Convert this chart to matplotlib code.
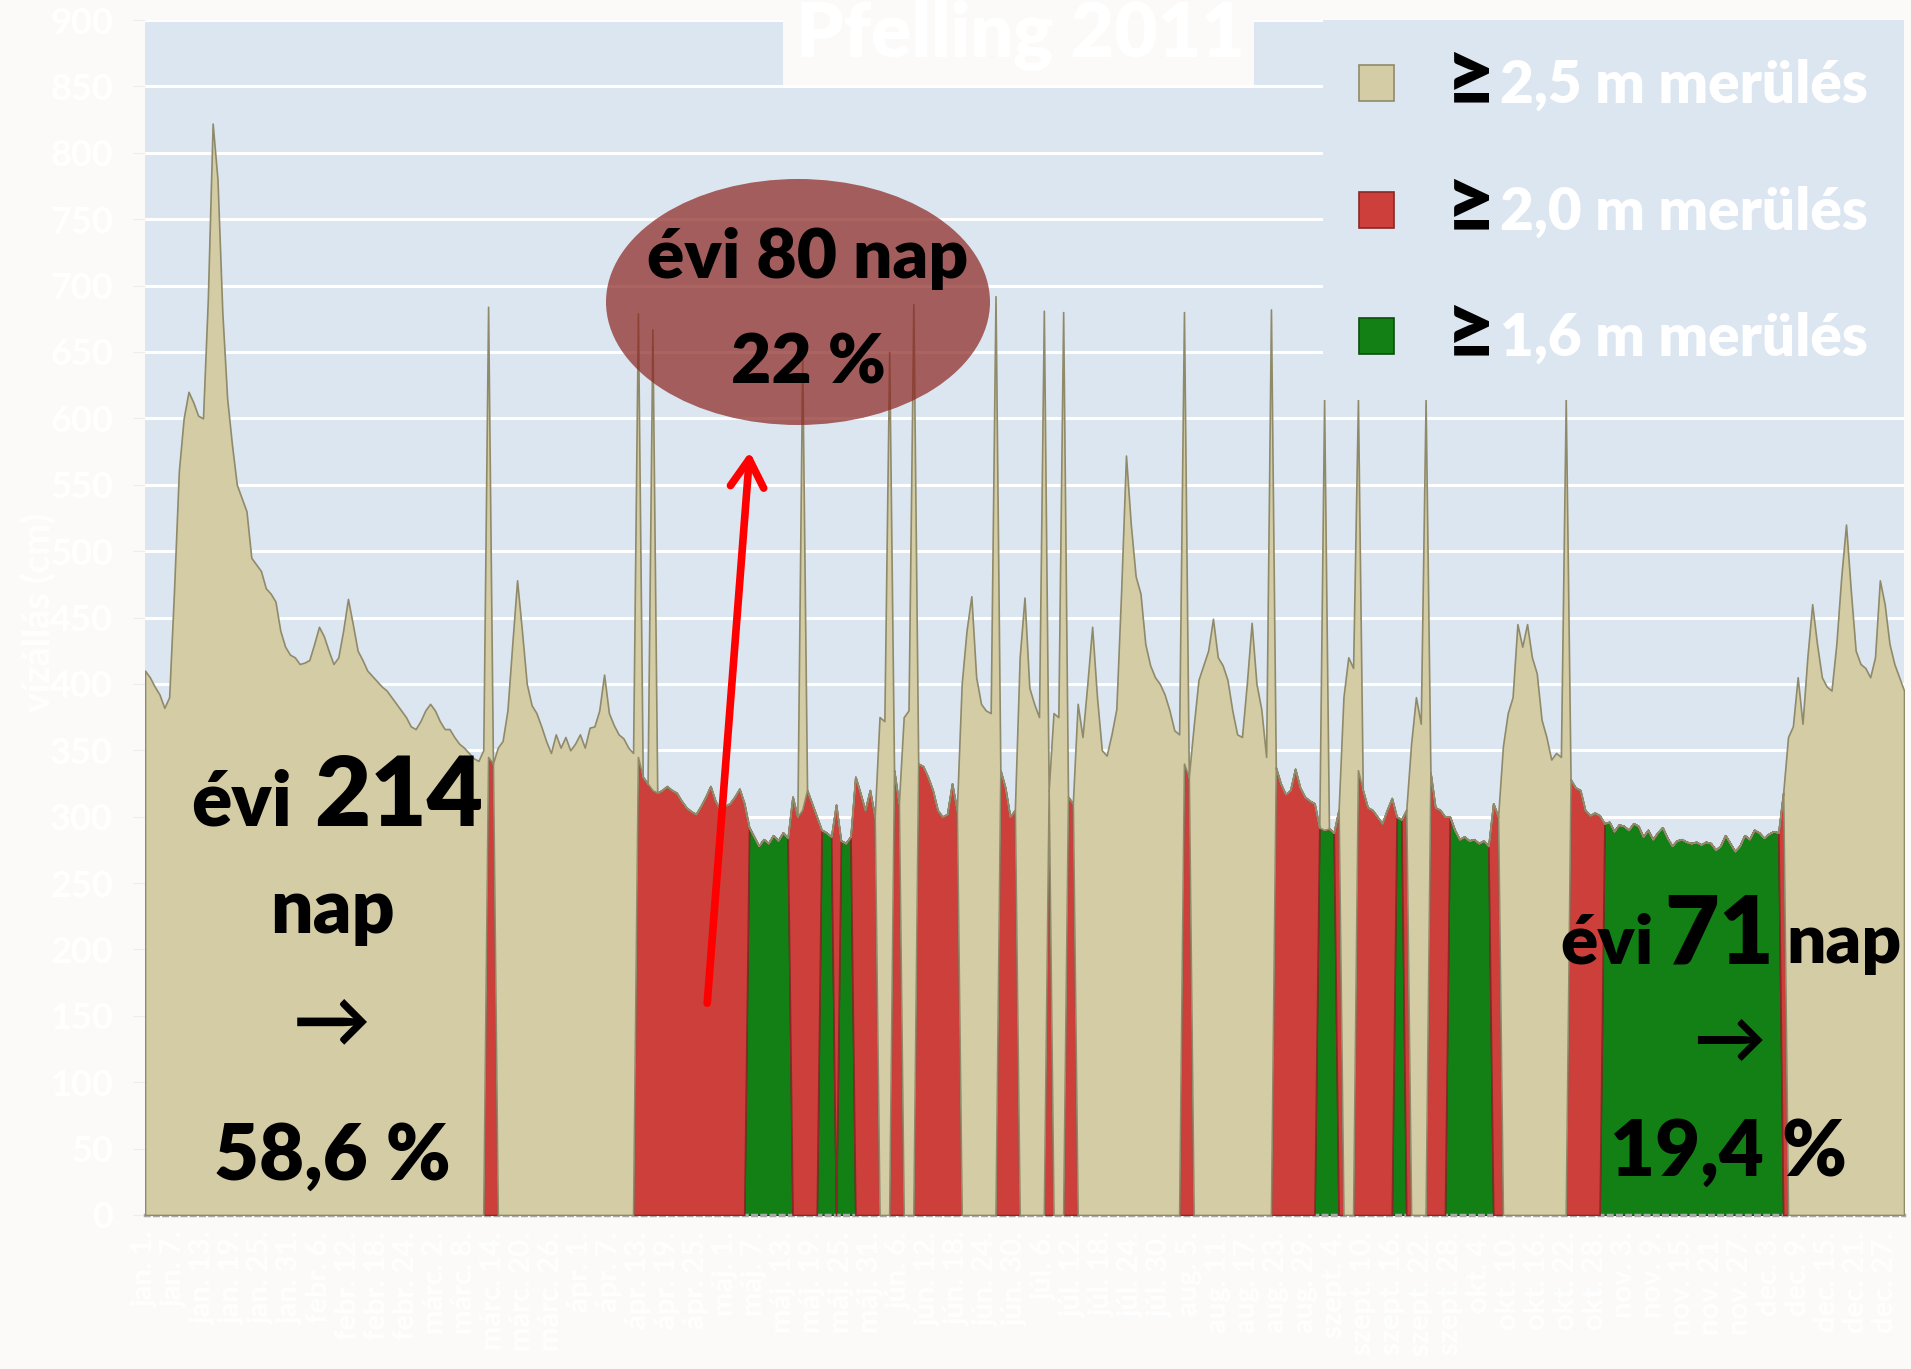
import numpy as np
import pandas as pd
import matplotlib.pyplot as plt
from matplotlib.patches import Ellipse, Rectangle, FancyArrowPatch

plt.rcParams['font.family'] = ['Lato', 'DejaVu Sans']

# daily water level (cm), Pfelling 2011
jan = [410, 405, 398, 392, 382, 390, 470, 560, 600, 620, 612, 602, 600, 690, 822, 780,
       680, 615, 580, 550, 540, 530, 495, 490, 485, 472, 468, 462, 440, 428, 422]
feb = [420, 415, 416, 418, 430, 443, 436, 425, 415, 420, 440, 464, 445, 425, 418, 410,
       406, 402, 398, 395, 390, 385, 380, 375, 368, 366, 372, 380]
mar = [385, 380, 372, 366, 366, 360, 355, 352, 348, 344, 342, 350, 345, 340, 352, 357,
       380, 430, 478, 440, 400, 384, 378, 368, 357, 348, 362, 352, 360, 350, 355]
apr = [362, 352, 367, 368, 380, 407, 378, 369, 362, 359, 352, 348, 345, 330, 325, 320,
       318, 320, 323, 320, 318, 312, 307, 304, 302, 308, 315, 323, 312, 305]
may = [308, 310, 315, 321, 310, 292, 285, 278, 283, 280, 286, 282, 288, 284, 315, 300,
       305, 320, 310, 300, 290, 288, 285, 309, 282, 280, 285, 330, 318, 305, 320]
jun = [300, 375, 372, 370, 335, 310, 375, 380, 385, 340, 338, 330, 320, 305, 300, 302,
       325, 305, 400, 440, 466, 405, 385, 380, 378, 372, 335, 322, 300, 305]
jul = [420, 465, 397, 385, 375, 370, 320, 378, 375, 372, 315, 310, 385, 360, 400, 443,
       390, 350, 346, 362, 381, 470, 572, 520, 481, 468, 430, 414, 405, 400, 392]
aug = [380, 365, 362, 340, 330, 368, 403, 414, 425, 449, 420, 414, 403, 380, 362, 360,
       400, 446, 400, 381, 345, 338, 337, 325, 317, 320, 336, 322, 315, 312, 310]
sep = [292, 290, 291, 288, 305, 390, 420, 412, 335, 320, 307, 305, 300, 295, 305, 314,
       300, 298, 305, 355, 390, 370, 355, 333, 307, 305, 300, 300, 290, 283]
okt = [285, 282, 283, 280, 282, 278, 310, 300, 353, 378, 390, 445, 428, 445, 420, 408,
       373, 360, 343, 348, 345, 340, 328, 322, 320, 305, 301, 303, 301, 295, 296]
nov = [289, 294, 293, 290, 295, 293, 285, 290, 283, 288, 292, 284, 278, 282, 283, 281,
       280, 281, 279, 281, 280, 275, 278, 286, 280, 274, 278, 286, 283, 290]
dec = [288, 284, 287, 289, 288, 318, 360, 368, 405, 370, 420, 460, 430, 405, 398, 395,
       430, 480, 520, 470, 425, 415, 412, 405, 420, 478, 460, 430, 415, 405, 395]

# draught class per day: B = >=2,5 m, R = >=2,0 m, G = >=1,6 m  (runs of days)
zone_runs = [("B", 71), ("R", 2), ("B", 29), ("R", 23), ("G", 9), ("R", 6), ("G", 3),
             ("R", 1), ("G", 3), ("R", 5), ("B", 3), ("R", 2), ("B", 3), ("R", 9),
             ("B", 8), ("R", 4), ("B", 6), ("R", 1), ("B", 3), ("R", 2), ("B", 22),
             ("R", 2), ("B", 17), ("R", 9), ("G", 4), ("R", 1), ("B", 3), ("R", 8),
             ("G", 2), ("R", 1), ("B", 4), ("R", 4), ("G", 9), ("R", 2), ("B", 14),
             ("R", 7), ("G", 37), ("R", 1), ("B", 25)]

# days where the stacked series overlap (thin spikes in the original)
spike_days = [71, 102, 105, 136, 154, 159, 176, 186, 190, 215, 233, 244, 251, 265, 294]
spike_tops = [684, 679, 667, 645, 650, 686, 692, 681, 680, 680, 682, 614, 614, 614, 614]

legend_labels = ["2,5 m merülés", "2,0 m merülés", "1,6 m merülés"]
honap = ['jan.', 'febr.', 'márc.', 'ápr.', 'máj.', 'jún.', 'júl.', 'aug.',
         'szept.', 'okt.', 'nov.', 'dec.']

level = np.array(jan + feb + mar + apr + may + jun + jul + aug + sep + okt + nov + dec, dtype=float)
zone = np.concatenate([[z] * n for z, n in zone_runs])
days = np.arange(len(level))

beige = np.where(zone == "B", level, 0.0)
red = np.where(zone == "R", level, 0.0)
green = np.where(zone == "G", level, 0.0)
for d, top in zip(spike_days, spike_tops):
    beige[d] += top - level[d]

c_beige, c_red, c_green = '#D3CCA4', '#CC3F3B', '#138016'
e_beige, e_red, e_green = '#8F8A6A', '#8A2826', '#0A4F0C'
axbg = '#DCE6F1'
figbg = '#FBFAF8'
W = 'heavy'

fig = plt.figure(figsize=(19.11, 13.69), dpi=100, facecolor=figbg)
ax = fig.add_axes([145 / 1911, 1 - 1215 / 1369, (1904 - 145) / 1911, (1215 - 20) / 1369])
ax.set_facecolor(axbg)

# stacked areas, like the original Excel chart
c1 = green
c2 = green + red
c3 = green + red + beige
ax.fill_between(days, 0, c1, facecolor=c_green, edgecolor=e_green, lw=1.2, zorder=2)
ax.fill_between(days, c1, c2, facecolor=c_red, edgecolor=e_red, lw=1.2, zorder=3)
ax.fill_between(days, c2, c3, facecolor=c_beige, edgecolor=e_beige, lw=1.2, zorder=4)

ax.set_xlim(0, len(level) - 1)
ax.set_ylim(0, 900)
ax.set_yticks(range(0, 901, 50))
ax.yaxis.grid(True, color='white', lw=2.2)
ax.set_axisbelow(True)
for s in ['top', 'right', 'left']:
    ax.spines[s].set_visible(False)
ax.spines['bottom'].set_color('#A8A8A8')
ax.spines['bottom'].set_linestyle(':')
ax.spines['bottom'].set_linewidth(2.5)

dates = pd.date_range('2011-01-01', periods=len(level))
tick_days = days[::6]
tick_labels = [f"{honap[dates[d].month - 1]} {dates[d].day}." for d in tick_days]
ax.set_xticks(tick_days)
ax.set_xticklabels(tick_labels, rotation=90, color='white', fontsize=21, fontweight='bold')
ax.tick_params(axis='x', length=0, pad=12)
ax.tick_params(axis='y', length=9, color='#EDEDED', labelcolor='white', labelsize=26, pad=14)
for t in ax.get_yticklabels():
    t.set_fontweight('bold')

fig.text(38 / 1911, 1 - 612 / 1369, 'vízállás (cm)', rotation=90, color='white',
         fontsize=27, fontweight='bold', ha='center', va='center')

# title box
fig.patches.append(Rectangle((783 / 1911, 1 - 85 / 1369), 471 / 1911, 85 / 1369,
                             transform=fig.transFigure, facecolor=figbg, edgecolor='none', zorder=5))
fig.text(1020 / 1911, 1 - 57 / 1369, 'Pfelling 2011', color='white', fontsize=54,
         fontweight=W, ha='center', va='baseline', zorder=6)

# legend box covers the grid and spikes
fig.patches.append(Rectangle((1323 / 1911, 1 - 400 / 1369), (1904 - 1323) / 1911, 380 / 1369,
                             transform=fig.transFigure, facecolor=axbg, edgecolor='none', zorder=5))
rows = [83, 210, 336]
for y, fc, ec, lab in zip(rows, [c_beige, c_red, c_green], [e_beige, e_red, e_green], legend_labels):
    fig.patches.append(Rectangle((1359 / 1911, 1 - (y + 18) / 1369), 35 / 1911, 36 / 1369,
                                 transform=fig.transFigure, facecolor=fc, edgecolor=ec,
                                 lw=1.2, zorder=6))
    fig.text(1446 / 1911, 1 - (y + 22) / 1369, '≥', color='black', fontsize=62,
             fontweight=W, ha='left', va='baseline', zorder=7)
    fig.text(1500 / 1911, 1 - (y + 20) / 1369, lab, color='white', fontsize=42,
             fontweight=W, ha='left', va='baseline', zorder=7)

# red ellipse with 80 days
fig.patches.append(Ellipse((798 / 1911, 1 - 302 / 1369), 384 / 1911, 246 / 1369,
                           transform=fig.transFigure, facecolor='#8C2823', alpha=0.72,
                           edgecolor='none', zorder=5))
fig.text(808 / 1911, 1 - 278 / 1369, 'évi 80 nap', fontsize=50, fontweight=W,
         ha='center', va='baseline', zorder=7)
fig.text(808 / 1911, 1 - 384 / 1369, '22 %', fontsize=50, fontweight=W,
         ha='center', va='baseline', zorder=7)

arrow = FancyArrowPatch((707 / 1911, 1 - 1006 / 1369), (750 / 1911, 1 - 449 / 1369),
                        transform=fig.transFigure, arrowstyle='->,head_length=0.5,head_width=0.3',
                        mutation_scale=40, color='#FF0000', lw=5.5, capstyle='round',
                        joinstyle='round', zorder=8)
fig.patches.append(arrow)

# left block: 214 days
fig.text(191 / 1911, 1 - 826 / 1369, 'évi', fontsize=54, fontweight=W, ha='left', va='baseline', zorder=7)
fig.text(314 / 1911, 1 - 826 / 1369, '214', fontsize=70, fontweight=W, ha='left', va='baseline', zorder=7)
fig.text(332 / 1911, 1 - 933 / 1369, 'nap', fontsize=54, fontweight=W, ha='center', va='baseline', zorder=7)
fig.text(332 / 1911, 1 - 1024 / 1369, '→', fontsize=56, fontweight='bold', ha='center', va='center', zorder=7)
fig.text(332 / 1911, 1 - 1180 / 1369, '58,6 %', fontsize=56, fontweight=W, ha='center', va='baseline', zorder=7)

# right block: 71 days
fig.text(1560 / 1911, 1 - 963 / 1369, 'évi', fontsize=50, fontweight=W, ha='left', va='baseline', zorder=7)
fig.text(1664 / 1911, 1 - 963 / 1369, '71', fontsize=68, fontweight=W, ha='left', va='baseline', zorder=7)
fig.text(1786 / 1911, 1 - 963 / 1369, 'nap', fontsize=50, fontweight=W, ha='left', va='baseline', zorder=7)
fig.text(1729 / 1911, 1 - 1042 / 1369, '→', fontsize=52, fontweight='bold', ha='center', va='center', zorder=7)
fig.text(1729 / 1911, 1 - 1176 / 1369, '19,4 %', fontsize=56, fontweight=W, ha='center', va='baseline', zorder=7)

fig.savefig('out.png', dpi=100, facecolor=figbg)
